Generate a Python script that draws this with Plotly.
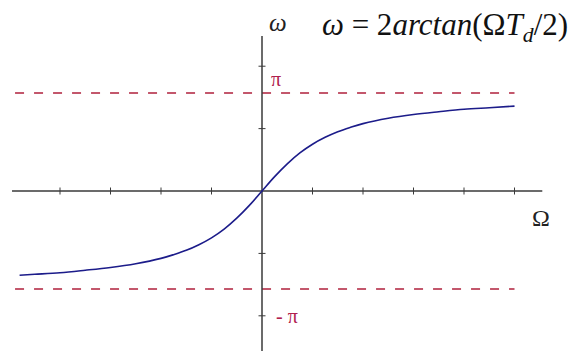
import plotly.graph_objects as go

# Sampled points of the curve omega(Omega) = 2*arctan(Omega*T_d/2)
big_omega = [-4.8, -4.5, -4.0, -3.5, -3.0, -2.5, -2.0, -1.75, -1.5, -1.25, -1.0,
             -0.75, -0.5, -0.25, 0.0, 0.25, 0.5, 0.75, 1.0, 1.25, 1.5, 1.75,
             2.0, 2.5, 3.0, 3.5, 4.0, 4.5, 5.0]
small_omega = [-2.70, -2.67, -2.62, -2.54, -2.45, -2.33, -2.16, -2.04, -1.90, -1.72, -1.50,
               -1.22, -0.87, -0.46, 0.0, 0.46, 0.87, 1.22, 1.50, 1.72, 1.90, 2.04,
               2.16, 2.33, 2.45, 2.54, 2.62, 2.67, 2.72]

# Axis ticks
x_ticks = [-4, -3, -2, -1, 1, 2, 3, 4, 5]
y_ticks = [-4, -2, 2, 4]

PI = 3.14159
x_axis_extent = [-4.95, 5.55]
y_axis_extent = [-5.3, 4.97]
asymptote_extent = [-4.89, 5.0]

axis_color = "#3a3a3a"
dash_color = "#b0203c"
label_red = "#b0204e"

fig = go.Figure()

# Asymptotes at +pi and -pi
for level in (PI, -PI):
    fig.add_trace(go.Scatter(
        x=asymptote_extent, y=[level, level], mode="lines",
        line=dict(color=dash_color, width=1.5, dash="9px,10px"),
        hoverinfo="skip", showlegend=False))

# Coordinate axes through the origin
fig.add_trace(go.Scatter(x=x_axis_extent, y=[0, 0], mode="lines",
                         line=dict(color=axis_color, width=1.5),
                         hoverinfo="skip", showlegend=False))
fig.add_trace(go.Scatter(x=[0, 0], y=y_axis_extent, mode="lines",
                         line=dict(color=axis_color, width=1.5),
                         hoverinfo="skip", showlegend=False))

# Tick marks
fig.add_trace(go.Scatter(x=x_ticks, y=[0] * len(x_ticks), mode="markers",
                         marker=dict(symbol="line-ns", size=5,
                                     line=dict(color=axis_color, width=1)),
                         hoverinfo="skip", showlegend=False))
fig.add_trace(go.Scatter(x=[0] * len(y_ticks), y=y_ticks, mode="markers",
                         marker=dict(symbol="line-ew", size=5,
                                     line=dict(color=axis_color, width=1)),
                         hoverinfo="skip", showlegend=False))

# The mapping curve
fig.add_trace(go.Scatter(x=big_omega, y=small_omega, mode="lines",
                         line=dict(color="#1c1c8a", width=1.6, shape="spline"),
                         showlegend=False))

serif = "Liberation Serif, DejaVu Serif, serif"
annotations = [
    dict(x=0.32, y=5.4, text="<i>ω</i>", font=dict(size=25, family=serif, color="#222")),
    dict(x=5.52, y=-0.85, text="Ω", font=dict(size=24, family=serif, color="#222")),
    dict(x=3.62, y=5.27,
         text="<i>ω</i>&nbsp;=&nbsp;2<i>arctan</i>(Ω<i>T</i><sub><i>d</i></sub>/2)",
         font=dict(size=31, family=serif, color="#111")),
    dict(x=0.27, y=3.6, text="π", font=dict(size=20, family=serif, color=label_red)),
    dict(x=0.5, y=-4.0, text="- π", font=dict(size=20, family=serif, color=label_red)),
]
for a in annotations:
    a.update(xref="x", yref="y", showarrow=False)

fig.update_layout(
    width=579, height=351,
    margin=dict(l=0, r=0, t=0, b=0),
    paper_bgcolor="white", plot_bgcolor="white",
    xaxis=dict(range=[-5.188, 6.277], visible=False, fixedrange=True),
    yaxis=dict(range=[-5.128, 6.122], visible=False, fixedrange=True),
    annotations=annotations,
)

fig.write_html("out.html")
